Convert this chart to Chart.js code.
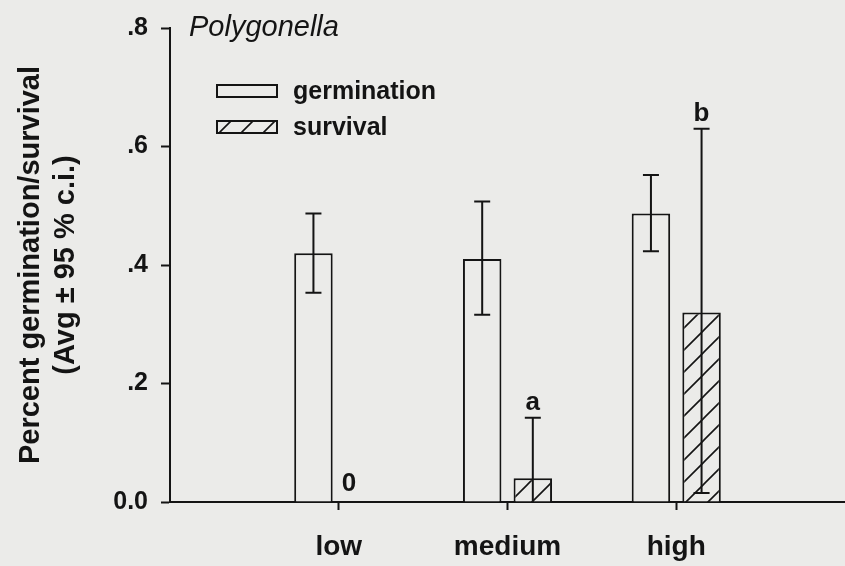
<!DOCTYPE html>
<html>
<head>
<meta charset="utf-8">
<script src="https://cdn.jsdelivr.net/npm/chart.js@4/dist/chart.umd.min.js"></script>
<style>
  html, body { margin: 0; padding: 0; background: #ebebe9; }
  #wrap { width: 845px; height: 566px; }
</style>
</head>
<body>
<div id="wrap"><canvas id="c" width="845" height="566"></canvas></div>
<script>
// ---- data ----
const categories = ['low', 'medium', 'high'];
const germination = [0.42, 0.41, 0.487];
const germinationLow = [0.353, 0.316, 0.423];
const germinationHigh = [0.487, 0.507, 0.552];
const survival = [0, 0.04, 0.32];
const survivalLow = [null, 0, 0.015];
const survivalHigh = [null, 0.142, 0.63];
const survivalMarks = ['0', 'a', 'b'];
const yTicks = [0, 0.2, 0.4, 0.6, 0.8];
const yTickLabels = ['0.0', '.2', '.4', '.6', '.8'];
const speciesName = 'Polygonella';
const seriesNames = ['germination', 'survival'];
const yTitle = ['Percent germination/survival', '(Avg \u00b1 95 % c.i.)'];

// padded category axis (empty slots at the ends)
const xLabels = [''].concat(categories, ['']);
const pad = arr => [null].concat(arr, [null]);

const INK = '#141414';
const BG = '#ebebe9';
const FONT = '"Liberation Sans", Arial, sans-serif';

function hatchPattern() {
  const s = 22;
  const c = document.createElement('canvas');
  c.width = s; c.height = s;
  const g = c.getContext('2d');
  g.fillStyle = BG; g.fillRect(0, 0, s, s);
  g.strokeStyle = INK; g.lineWidth = 1.6;
  g.beginPath();
  g.moveTo(-2, s + 2); g.lineTo(s + 2, -2);
  g.moveTo(-2, 2); g.lineTo(2, -2);
  g.moveTo(s - 2, s + 2); g.lineTo(s + 2, s - 2);
  g.stroke();
  return g.createPattern(c, 'repeat');
}
const hatch = hatchPattern();

const bgPlugin = {
  id: 'bg',
  beforeDraw(chart) {
    const ctx = chart.ctx;
    ctx.save();
    ctx.fillStyle = BG;
    ctx.fillRect(0, 0, chart.width, chart.height);
    ctx.restore();
  }
};

const errorPlugin = {
  id: 'errs',
  afterDatasetsDraw(chart) {
    const ctx = chart.ctx;
    const y = chart.scales.y;
    const sets = [[germinationLow, germinationHigh], [survivalLow, survivalHigh]];
    ctx.save();
    ctx.strokeStyle = INK;
    ctx.lineWidth = 2;
    sets.forEach((pair, di) => {
      const meta = chart.getDatasetMeta(di);
      pair[0].forEach((lo, i) => {
        const hi = pair[1][i];
        if (lo === null || hi === null) return;
        const el = meta.data[i + 1];
        const x = el.x;
        const yl = y.getPixelForValue(lo), yh = y.getPixelForValue(hi);
        ctx.beginPath();
        ctx.moveTo(x, yl); ctx.lineTo(x, yh);
        ctx.moveTo(x - 8, yh); ctx.lineTo(x + 8, yh);
        if (lo > 0) { ctx.moveTo(x - 8, yl); ctx.lineTo(x + 8, yl); }
        ctx.stroke();
      });
    });
    // significance marks above survival
    const meta = chart.getDatasetMeta(1);
    ctx.fillStyle = INK;
    ctx.font = 'bold 26px ' + FONT;
    ctx.textAlign = 'center';
    ctx.textBaseline = 'alphabetic';
    survivalMarks.forEach((m, i) => {
      const el = meta.data[i + 1];
      const top = survivalHigh[i] !== null ? survivalHigh[i] : survival[i];
      const py = y.getPixelForValue(top);
      const dx = survivalHigh[i] === null ? -15 : 0;
      ctx.fillText(m, el.x + dx, py - (survivalHigh[i] === null ? 11 : 8));
    });
    ctx.restore();
  }
};

const legendPlugin = {
  id: 'customLegend',
  afterDraw(chart) {
    const ctx = chart.ctx;
    const a = chart.chartArea;
    ctx.save();
    chart.data.datasets.forEach((ds, i) => {
      const bx = a.left + 47, by = a.top + 57 + i * 36;
      ctx.fillStyle = ds.backgroundColor;
      ctx.fillRect(bx, by, 60, 12);
      ctx.strokeStyle = INK; ctx.lineWidth = 2;
      ctx.strokeRect(bx, by, 60, 12);
      ctx.fillStyle = INK;
      ctx.font = 'bold 25px ' + FONT;
      ctx.textAlign = 'left';
      ctx.textBaseline = 'middle';
      ctx.fillText(ds.label, bx + 76, by + 7);
    });
    // species name
    ctx.font = 'italic 29px ' + FONT;
    ctx.textBaseline = 'middle';
    ctx.fillText(speciesName, a.left + 19, a.top);
    ctx.restore();
  }
};

new Chart(document.getElementById('c'), {
  type: 'bar',
  data: {
    labels: xLabels,
    datasets: [
      { label: seriesNames[0], data: pad(germination), backgroundColor: BG,
        borderColor: INK, borderWidth: 2 },
      { label: seriesNames[1], data: pad(survival), backgroundColor: hatch,
        borderColor: INK, borderWidth: 2 }
    ]
  },
  options: {
    responsive: false,
    devicePixelRatio: 1,
    animation: false,
    layout: { padding: { top: 24, right: 0, left: 0, bottom: 0 } },
    datasets: { bar: { categoryPercentage: 0.6, barPercentage: 0.76 } },
    plugins: { legend: { display: false }, tooltip: { enabled: false } },
    scales: {
      x: {
        offset: false,
        grid: {
          offset: false,
          drawOnChartArea: false, drawTicks: true, tickLength: 8,
          tickColor: c => (xLabels[c.index] ? INK : 'rgba(0,0,0,0)'), tickWidth: 2
        },
        border: { display: true, color: INK, width: 2 },
        ticks: { color: INK, font: { family: FONT, size: 28, weight: 'bold' }, padding: 20, maxRotation: 0, autoSkip: false },
        afterFit: s => { s.height = 64; s.paddingLeft = 0; s.paddingRight = 0; }
      },
      y: {
        min: 0, max: 0.8,
        afterBuildTicks: s => { s.ticks = yTicks.map(v => ({ value: v })); },
        grid: { drawOnChartArea: false, drawTicks: true, tickLength: 9, tickColor: INK, tickWidth: 2 },
        border: { display: true, color: INK, width: 2 },
        ticks: {
          color: INK, font: { family: FONT, size: 25, weight: 'bold' }, padding: 13,
          callback: v => yTickLabels[yTicks.findIndex(t => Math.abs(t - v) < 1e-6)]
        },
        title: {
          display: true, text: yTitle, color: INK,
          font: { family: FONT, size: 29, weight: 'bold' }, padding: { top: 14, bottom: 0 }
        },
        afterFit: s => { s.width = 170; }
      }
    }
  },
  plugins: [bgPlugin, errorPlugin, legendPlugin]
});
</script>
</body>
</html>
